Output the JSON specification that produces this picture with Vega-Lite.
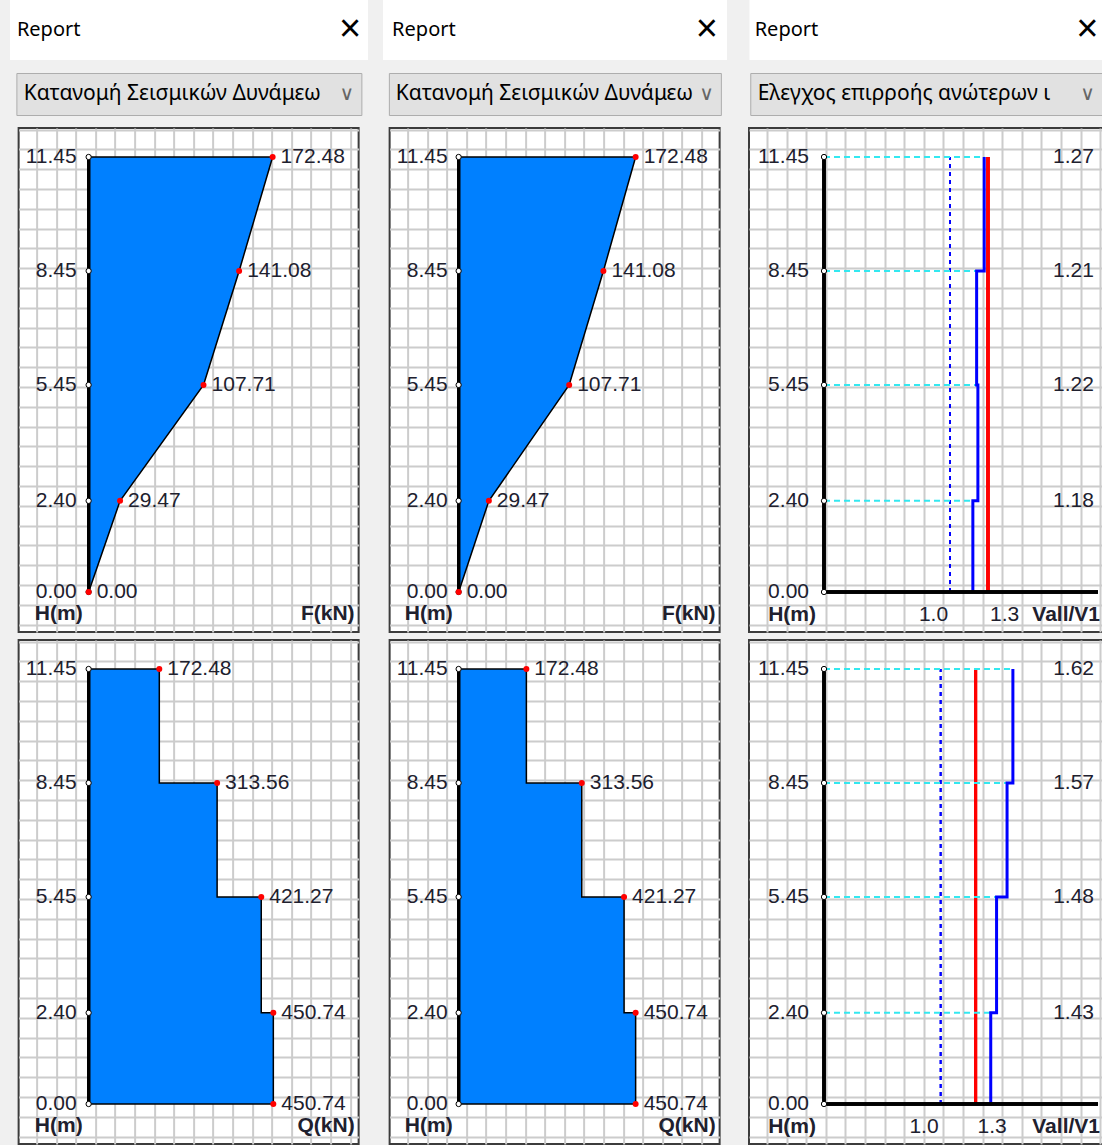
{
"$schema": "https://vega.github.io/schema/vega-lite/v6.json",
"background": "#f0f0f0",
"padding": {"left": 10, "top": 0, "right": 0, "bottom": 0},
"datasets": {"lv": [
 {"H": 0, "F": 0, "Q": 450.74, "R1": 1.18, "R2": 1.43},
 {"H": 2.4, "F": 29.47, "Q": 450.74, "R1": 1.18, "R2": 1.43},
 {"H": 5.45, "F": 107.71, "Q": 421.27, "R1": 1.22, "R2": 1.48},
 {"H": 8.45, "F": 141.08, "Q": 313.56, "R1": 1.21, "R2": 1.57},
 {"H": 11.45, "F": 172.48, "Q": 172.48, "R1": 1.27, "R2": 1.62}
]},
"spacing": 15,
"hconcat": [
 {"spacing": 12, "center": true, "vconcat": [
  {"width": 358, "height": 60, "view": {"fill": "#ffffff", "stroke": null},
   "layer": [
    {"data": {"values": [{"p": "a", "t": "Report"}]}, "mark": {"type": "text", "align": "left", "baseline": "middle", "font": "Noto Sans", "fontSize": 20, "color": "#000000"}, "encoding": {"x": {"field": "p", "type": "nominal", "scale": {"type": "point", "domain": ["a", "b"], "padding": 0.02}, "axis": null}, "text": {"field": "t"}}},
    {"data": {"values": [{"p": "b", "t": "×"}]}, "mark": {"type": "text", "align": "right", "baseline": "middle", "font": "Liberation Sans", "fontSize": 38, "color": "#000000"}, "encoding": {"x": {"field": "p", "type": "nominal", "axis": null}, "text": {"field": "t"}}}
   ]},
  {"spacing": 11, "center": true, "vconcat": [
   {"width": 345, "height": 42, "view": {"fill": "#e1e1e1", "stroke": "#adadad", "strokeWidth": 1},
    "layer": [
     {"data": {"values": [{"p": "a", "t": "Κατανομή Σεισμικών Δυνάμεω"}]}, "mark": {"type": "text", "align": "left", "baseline": "middle", "font": "Noto Sans", "fontSize": 21, "color": "#000000"}, "encoding": {"x": {"field": "p", "type": "nominal", "scale": {"type": "point", "domain": ["a", "b"], "padding": 0.022}, "axis": null}, "text": {"field": "t"}}},
     {"data": {"values": [{"p": "b", "t": "∨"}]}, "mark": {"type": "text", "align": "right", "baseline": "middle", "font": "DejaVu Sans", "fontSize": 20, "color": "#666666"}, "encoding": {"x": {"field": "p", "type": "nominal", "axis": null}, "text": {"field": "t"}}}
    ]},
   {"spacing": 6, "vconcat": [
    {"width": 340, "height": 504, "data": {"name": "lv"},
     "resolve": {"scale": {"x": "independent", "y": "independent"}},
     "layer": [
      {"mark": {"type": "point", "opacity": 0}, "encoding": {"x": {"datum": 0, "type": "quantitative", "scale": {"domain": [-0.918, 16.43], "nice": false, "zero": false}, "axis": {"tickCount": 18, "title": null}}, "y": {"datum": 0, "type": "quantitative", "scale": {"domain": [-0.37, 25.08], "nice": false, "zero": false}, "axis": {"tickCount": 26, "title": null}}}},
      {"encoding": {"x": {"field": "F", "type": "quantitative", "stack": null, "scale": {"domain": [-65.62, 253.1], "nice": false, "zero": false}, "axis": null}, "y": {"field": "H", "type": "quantitative", "scale": {"domain": [-1.053, 12.213], "nice": false, "zero": false}, "axis": null}},
       "layer": [
        {"mark": {"type": "area", "orient": "horizontal", "color": "#0080ff", "stroke": "#000000", "strokeWidth": 1.5, "opacity": 1}, "encoding": {"x2": {"datum": 0}}},
        {"mark": {"type": "rule", "color": "#000000", "strokeWidth": 3}, "encoding": {"x": {"datum": 0, "axis": null}, "y": {"datum": 0, "axis": null}, "y2": {"datum": 11.45}}},
        {"mark": {"type": "point", "filled": true, "fill": "#ffffff", "stroke": "#000000", "strokeWidth": 1, "size": 28, "opacity": 1}, "encoding": {"x": {"datum": 0, "axis": null}}},
        {"mark": {"type": "circle", "color": "#ff0000", "size": 36, "opacity": 1}},
        {"mark": {"type": "text", "align": "left", "dx": 8}, "encoding": {"text": {"field": "F", "format": ".2f"}}},
        {"mark": {"type": "text", "align": "right", "dx": -12}, "encoding": {"x": {"datum": 0, "axis": null}, "text": {"field": "H", "format": ".2f"}}},
        {"transform": [{"filter": "datum.H == 0"}], "mark": {"type": "text", "align": "right", "dx": -6, "fontWeight": "bold"}, "encoding": {"x": {"datum": 0, "axis": null}, "y": {"datum": -0.58, "axis": null}, "text": {"value": "H(m)"}}},
        {"transform": [{"filter": "datum.H == 0"}], "mark": {"type": "text", "align": "right", "fontWeight": "bold"}, "encoding": {"x": {"datum": 249.3, "axis": null}, "y": {"datum": -0.58, "axis": null}, "text": {"value": "F(kN)"}}}
       ]}
     ]},
    {"width": 340, "height": 504, "data": {"name": "lv"},
     "resolve": {"scale": {"x": "independent", "y": "independent"}},
     "layer": [
      {"mark": {"type": "point", "opacity": 0}, "encoding": {"x": {"datum": 0, "type": "quantitative", "scale": {"domain": [-0.918, 16.43], "nice": false, "zero": false}, "axis": {"tickCount": 18, "title": null}}, "y": {"datum": 0, "type": "quantitative", "scale": {"domain": [-0.37, 25.08], "nice": false, "zero": false}, "axis": {"tickCount": 26, "title": null}}}},
      {"encoding": {"x": {"field": "Q", "type": "quantitative", "stack": null, "scale": {"domain": [-170.83, 658.9], "nice": false, "zero": false}, "axis": null}, "y": {"field": "H", "type": "quantitative", "scale": {"domain": [-1.053, 12.213], "nice": false, "zero": false}, "axis": null}},
       "layer": [
        {"mark": {"type": "area", "orient": "horizontal", "interpolate": "step-before", "color": "#0080ff", "stroke": "#000000", "strokeWidth": 1.5, "opacity": 1}, "encoding": {"x2": {"datum": 0}}},
        {"mark": {"type": "rule", "color": "#000000", "strokeWidth": 3}, "encoding": {"x": {"datum": 0, "axis": null}, "y": {"datum": 0, "axis": null}, "y2": {"datum": 11.45}}},
        {"mark": {"type": "point", "filled": true, "fill": "#ffffff", "stroke": "#000000", "strokeWidth": 1, "size": 28, "opacity": 1}, "encoding": {"x": {"datum": 0, "axis": null}}},
        {"mark": {"type": "circle", "color": "#ff0000", "size": 36, "opacity": 1}},
        {"mark": {"type": "text", "align": "left", "dx": 8}, "encoding": {"text": {"field": "Q", "format": ".2f"}}},
        {"mark": {"type": "text", "align": "right", "dx": -12}, "encoding": {"x": {"datum": 0, "axis": null}, "text": {"field": "H", "format": ".2f"}}},
        {"transform": [{"filter": "datum.H == 0"}], "mark": {"type": "text", "align": "right", "dx": -6, "fontWeight": "bold"}, "encoding": {"x": {"datum": 0, "axis": null}, "y": {"datum": -0.58, "axis": null}, "text": {"value": "H(m)"}}},
        {"transform": [{"filter": "datum.H == 0"}], "mark": {"type": "text", "align": "right", "fontWeight": "bold"}, "encoding": {"x": {"datum": 649.2, "axis": null}, "y": {"datum": -0.58, "axis": null}, "text": {"value": "Q(kN)"}}}
       ]}
     ]}
   ]}
  ]}
 ]},
 {"spacing": 21, "hconcat": [
  {"spacing": 12, "center": true, "vconcat": [
   {"width": 344, "height": 60, "view": {"fill": "#ffffff", "stroke": null},
    "layer": [
     {"data": {"values": [{"p": "a", "t": "Report"}]}, "mark": {"type": "text", "align": "left", "baseline": "middle", "font": "Noto Sans", "fontSize": 20, "color": "#000000"}, "encoding": {"x": {"field": "p", "type": "nominal", "scale": {"type": "point", "domain": ["a", "b"], "padding": 0.028}, "axis": null}, "text": {"field": "t"}}},
     {"data": {"values": [{"p": "b", "t": "×"}]}, "mark": {"type": "text", "align": "right", "baseline": "middle", "font": "Liberation Sans", "fontSize": 38, "color": "#000000"}, "encoding": {"x": {"field": "p", "type": "nominal", "axis": null}, "text": {"field": "t"}}}
    ]},
   {"spacing": 11, "center": true, "vconcat": [
    {"width": 332, "height": 42, "view": {"fill": "#e1e1e1", "stroke": "#adadad", "strokeWidth": 1},
     "layer": [
      {"data": {"values": [{"p": "a", "t": "Κατανομή Σεισμικών Δυνάμεω"}]}, "mark": {"type": "text", "align": "left", "baseline": "middle", "font": "Noto Sans", "fontSize": 21, "color": "#000000"}, "encoding": {"x": {"field": "p", "type": "nominal", "scale": {"type": "point", "domain": ["a", "b"], "padding": 0.022}, "axis": null}, "text": {"field": "t"}}},
      {"data": {"values": [{"p": "b", "t": "∨"}]}, "mark": {"type": "text", "align": "right", "baseline": "middle", "font": "DejaVu Sans", "fontSize": 20, "color": "#666666"}, "encoding": {"x": {"field": "p", "type": "nominal", "axis": null}, "text": {"field": "t"}}}
     ]},
    {"spacing": 6, "vconcat": [
     {"width": 330, "height": 504, "data": {"name": "lv"},
      "resolve": {"scale": {"x": "independent", "y": "independent"}},
      "layer": [
       {"mark": {"type": "point", "opacity": 0}, "encoding": {"x": {"datum": 0, "type": "quantitative", "scale": {"domain": [-0.918, 15.92], "nice": false, "zero": false}, "axis": {"tickCount": 17, "title": null}}, "y": {"datum": 0, "type": "quantitative", "scale": {"domain": [-0.37, 25.08], "nice": false, "zero": false}, "axis": {"tickCount": 26, "title": null}}}},
       {"encoding": {"x": {"field": "F", "type": "quantitative", "stack": null, "scale": {"domain": [-67.24, 254.33], "nice": false, "zero": false}, "axis": null}, "y": {"field": "H", "type": "quantitative", "scale": {"domain": [-1.053, 12.213], "nice": false, "zero": false}, "axis": null}},
        "layer": [
         {"mark": {"type": "area", "orient": "horizontal", "color": "#0080ff", "stroke": "#000000", "strokeWidth": 1.5, "opacity": 1}, "encoding": {"x2": {"datum": 0}}},
         {"mark": {"type": "rule", "color": "#000000", "strokeWidth": 3}, "encoding": {"x": {"datum": 0, "axis": null}, "y": {"datum": 0, "axis": null}, "y2": {"datum": 11.45}}},
         {"mark": {"type": "point", "filled": true, "fill": "#ffffff", "stroke": "#000000", "strokeWidth": 1, "size": 28, "opacity": 1}, "encoding": {"x": {"datum": 0, "axis": null}}},
         {"mark": {"type": "circle", "color": "#ff0000", "size": 36, "opacity": 1}},
         {"mark": {"type": "text", "align": "left", "dx": 8}, "encoding": {"text": {"field": "F", "format": ".2f"}}},
         {"mark": {"type": "text", "align": "right", "dx": -11}, "encoding": {"x": {"datum": 0, "axis": null}, "text": {"field": "H", "format": ".2f"}}},
         {"transform": [{"filter": "datum.H == 0"}], "mark": {"type": "text", "align": "right", "dx": -6, "fontWeight": "bold"}, "encoding": {"x": {"datum": 0, "axis": null}, "y": {"datum": -0.58, "axis": null}, "text": {"value": "H(m)"}}},
         {"transform": [{"filter": "datum.H == 0"}], "mark": {"type": "text", "align": "right", "fontWeight": "bold"}, "encoding": {"x": {"datum": 250.4, "axis": null}, "y": {"datum": -0.58, "axis": null}, "text": {"value": "F(kN)"}}}
        ]}
      ]},
     {"width": 330, "height": 504, "data": {"name": "lv"},
      "resolve": {"scale": {"x": "independent", "y": "independent"}},
      "layer": [
       {"mark": {"type": "point", "opacity": 0}, "encoding": {"x": {"datum": 0, "type": "quantitative", "scale": {"domain": [-0.918, 15.92], "nice": false, "zero": false}, "axis": {"tickCount": 17, "title": null}}, "y": {"datum": 0, "type": "quantitative", "scale": {"domain": [-0.37, 25.08], "nice": false, "zero": false}, "axis": {"tickCount": 26, "title": null}}}},
       {"encoding": {"x": {"field": "Q", "type": "quantitative", "stack": null, "scale": {"domain": [-175.71, 664.6], "nice": false, "zero": false}, "axis": null}, "y": {"field": "H", "type": "quantitative", "scale": {"domain": [-1.053, 12.213], "nice": false, "zero": false}, "axis": null}},
        "layer": [
         {"mark": {"type": "area", "orient": "horizontal", "interpolate": "step-before", "color": "#0080ff", "stroke": "#000000", "strokeWidth": 1.5, "opacity": 1}, "encoding": {"x2": {"datum": 0}}},
         {"mark": {"type": "rule", "color": "#000000", "strokeWidth": 3}, "encoding": {"x": {"datum": 0, "axis": null}, "y": {"datum": 0, "axis": null}, "y2": {"datum": 11.45}}},
         {"mark": {"type": "point", "filled": true, "fill": "#ffffff", "stroke": "#000000", "strokeWidth": 1, "size": 28, "opacity": 1}, "encoding": {"x": {"datum": 0, "axis": null}}},
         {"mark": {"type": "circle", "color": "#ff0000", "size": 36, "opacity": 1}},
         {"mark": {"type": "text", "align": "left", "dx": 8}, "encoding": {"text": {"field": "Q", "format": ".2f"}}},
         {"mark": {"type": "text", "align": "right", "dx": -11}, "encoding": {"x": {"datum": 0, "axis": null}, "text": {"field": "H", "format": ".2f"}}},
         {"transform": [{"filter": "datum.H == 0"}], "mark": {"type": "text", "align": "right", "dx": -6, "fontWeight": "bold"}, "encoding": {"x": {"datum": 0, "axis": null}, "y": {"datum": -0.58, "axis": null}, "text": {"value": "H(m)"}}},
         {"transform": [{"filter": "datum.H == 0"}], "mark": {"type": "text", "align": "right", "fontWeight": "bold"}, "encoding": {"x": {"datum": 654.5, "axis": null}, "y": {"datum": -0.58, "axis": null}, "text": {"value": "Q(kN)"}}}
        ]}
      ]}
    ]}
   ]}
  ]},
  {"spacing": 12, "center": true, "vconcat": [
   {"width": 354, "height": 60, "view": {"fill": "#ffffff", "stroke": null},
    "layer": [
     {"data": {"values": [{"p": "a", "t": "Report"}]}, "mark": {"type": "text", "align": "left", "baseline": "middle", "font": "Noto Sans", "fontSize": 20, "color": "#000000"}, "encoding": {"x": {"field": "p", "type": "nominal", "scale": {"type": "point", "domain": ["a", "b"], "padding": 0.015}, "axis": null}, "text": {"field": "t"}}},
     {"data": {"values": [{"p": "b", "t": "×"}]}, "mark": {"type": "text", "align": "right", "baseline": "middle", "font": "Liberation Sans", "fontSize": 38, "color": "#000000"}, "encoding": {"x": {"field": "p", "type": "nominal", "axis": null}, "text": {"field": "t"}}}
    ]},
   {"spacing": 11, "center": true, "vconcat": [
    {"width": 352, "height": 42, "view": {"fill": "#e1e1e1", "stroke": "#adadad", "strokeWidth": 1},
     "layer": [
      {"data": {"values": [{"p": "a", "t": "Ελεγχος επιρροής ανώτερων ι"}]}, "mark": {"type": "text", "align": "left", "baseline": "middle", "font": "Noto Sans", "fontSize": 21, "color": "#000000"}, "encoding": {"x": {"field": "p", "type": "nominal", "scale": {"type": "point", "domain": ["a", "b"], "padding": 0.022}, "axis": null}, "text": {"field": "t"}}},
      {"data": {"values": [{"p": "b", "t": "∨"}]}, "mark": {"type": "text", "align": "right", "baseline": "middle", "font": "DejaVu Sans", "fontSize": 20, "color": "#666666"}, "encoding": {"x": {"field": "p", "type": "nominal", "axis": null}, "text": {"field": "t"}}}
     ]},
    {"spacing": 6, "vconcat": [
     {"width": 354, "height": 504, "data": {"name": "lv"},
      "resolve": {"scale": {"x": "independent", "y": "independent"}},
      "layer": [
       {"mark": {"type": "point", "opacity": 0}, "encoding": {"x": {"datum": 0, "type": "quantitative", "scale": {"domain": [-0.918, 17.14], "nice": false, "zero": false}, "axis": {"tickCount": 19, "title": null}}, "y": {"datum": 0, "type": "quantitative", "scale": {"domain": [-0.37, 25.08], "nice": false, "zero": false}, "axis": {"tickCount": 26, "title": null}}}},
       {"encoding": {"x": {"field": "R1", "type": "quantitative", "scale": {"domain": [-0.5945, 2.2117], "nice": false, "zero": false}, "axis": null}, "y": {"field": "H", "type": "quantitative", "scale": {"domain": [-1.053, 12.213], "nice": false, "zero": false}, "axis": null}},
        "layer": [
         {"mark": {"type": "rule", "color": "#ff0000", "strokeWidth": 3}, "encoding": {"x": {"datum": 1.3, "axis": null}, "y": {"datum": 0, "axis": null}, "y2": {"datum": 11.45}}},
         {"mark": {"type": "rule", "color": "#0000ff", "strokeWidth": 1.5, "strokeDash": [4, 4]}, "encoding": {"x": {"datum": 1.0, "axis": null}, "y": {"datum": 0, "axis": null}, "y2": {"datum": 11.45}}},
         {"transform": [{"filter": "datum.H > 0"}], "mark": {"type": "rule", "color": "#33e8f0", "strokeWidth": 2, "strokeDash": [6, 4]}, "encoding": {"x": {"datum": 0, "axis": null}, "x2": {"field": "R1"}}},
         {"mark": {"type": "line", "color": "#0000ff", "strokeWidth": 3, "interpolate": "step-after"}, "encoding": {"order": {"field": "H", "type": "quantitative"}}},
         {"mark": {"type": "rule", "color": "#000000", "strokeWidth": 3}, "encoding": {"x": {"datum": 0, "axis": null}, "y": {"datum": 0, "axis": null}, "y2": {"datum": 11.45}}},
         {"mark": {"type": "rule", "color": "#000000", "strokeWidth": 3}, "encoding": {"x": {"datum": 0, "axis": null}, "x2": {"datum": 2.172}, "y": {"datum": 0, "axis": null}}},
         {"mark": {"type": "point", "filled": true, "fill": "#ffffff", "stroke": "#000000", "strokeWidth": 1, "size": 28, "opacity": 1}, "encoding": {"x": {"datum": 0, "axis": null}}},
         {"transform": [{"filter": "datum.H > 0"}], "mark": {"type": "text", "align": "right"}, "encoding": {"x": {"datum": 2.14, "axis": null}, "text": {"field": "R1", "format": ".2f"}}},
         {"mark": {"type": "text", "align": "right", "dx": -15}, "encoding": {"x": {"datum": 0, "axis": null}, "text": {"field": "H", "format": ".2f"}}},
         {"transform": [{"filter": "datum.H == 0"}], "mark": {"type": "text", "align": "right", "dx": -8, "fontWeight": "bold"}, "encoding": {"x": {"datum": 0, "axis": null}, "y": {"datum": -0.6, "axis": null}, "text": {"value": "H(m)"}}},
         {"transform": [{"filter": "datum.H == 0"}], "mark": {"type": "text", "align": "right", "dx": -2}, "encoding": {"x": {"datum": 1.0, "axis": null}, "y": {"datum": -0.6, "axis": null}, "text": {"value": "1.0"}}},
         {"transform": [{"filter": "datum.H == 0"}], "mark": {"type": "text", "align": "left", "dx": 2}, "encoding": {"x": {"datum": 1.3, "axis": null}, "y": {"datum": -0.6, "axis": null}, "text": {"value": "1.3"}}},
         {"transform": [{"filter": "datum.H == 0"}], "mark": {"type": "text", "align": "right", "fontWeight": "bold"}, "encoding": {"x": {"datum": 2.188, "axis": null}, "y": {"datum": -0.6, "axis": null}, "text": {"value": "Vall/V1"}}}
        ]}
      ]},
     {"width": 354, "height": 504, "data": {"name": "lv"},
      "resolve": {"scale": {"x": "independent", "y": "independent"}},
      "layer": [
       {"mark": {"type": "point", "opacity": 0}, "encoding": {"x": {"datum": 0, "type": "quantitative", "scale": {"domain": [-0.918, 17.14], "nice": false, "zero": false}, "axis": {"tickCount": 19, "title": null}}, "y": {"datum": 0, "type": "quantitative", "scale": {"domain": [-0.37, 25.08], "nice": false, "zero": false}, "axis": {"tickCount": 26, "title": null}}}},
       {"encoding": {"x": {"field": "R2", "type": "quantitative", "scale": {"domain": [-0.6432, 2.3928], "nice": false, "zero": false}, "axis": null}, "y": {"field": "H", "type": "quantitative", "scale": {"domain": [-1.053, 12.213], "nice": false, "zero": false}, "axis": null}},
        "layer": [
         {"mark": {"type": "rule", "color": "#ff0000", "strokeWidth": 3}, "encoding": {"x": {"datum": 1.3, "axis": null}, "y": {"datum": 0, "axis": null}, "y2": {"datum": 11.45}}},
         {"mark": {"type": "rule", "color": "#0000ff", "strokeWidth": 1.5, "strokeDash": [4, 4]}, "encoding": {"x": {"datum": 1.0, "axis": null}, "y": {"datum": 0, "axis": null}, "y2": {"datum": 11.45}}},
         {"transform": [{"filter": "datum.H > 0"}], "mark": {"type": "rule", "color": "#33e8f0", "strokeWidth": 2, "strokeDash": [6, 4]}, "encoding": {"x": {"datum": 0, "axis": null}, "x2": {"field": "R2"}}},
         {"mark": {"type": "line", "color": "#0000ff", "strokeWidth": 3, "interpolate": "step-after"}, "encoding": {"order": {"field": "H", "type": "quantitative"}}},
         {"mark": {"type": "rule", "color": "#000000", "strokeWidth": 3}, "encoding": {"x": {"datum": 0, "axis": null}, "y": {"datum": 0, "axis": null}, "y2": {"datum": 11.45}}},
         {"mark": {"type": "rule", "color": "#000000", "strokeWidth": 3}, "encoding": {"x": {"datum": 0, "axis": null}, "x2": {"datum": 2.35}, "y": {"datum": 0, "axis": null}}},
         {"mark": {"type": "point", "filled": true, "fill": "#ffffff", "stroke": "#000000", "strokeWidth": 1, "size": 28, "opacity": 1}, "encoding": {"x": {"datum": 0, "axis": null}}},
         {"transform": [{"filter": "datum.H > 0"}], "mark": {"type": "text", "align": "right"}, "encoding": {"x": {"datum": 2.316, "axis": null}, "text": {"field": "R2", "format": ".2f"}}},
         {"mark": {"type": "text", "align": "right", "dx": -15}, "encoding": {"x": {"datum": 0, "axis": null}, "text": {"field": "H", "format": ".2f"}}},
         {"transform": [{"filter": "datum.H == 0"}], "mark": {"type": "text", "align": "right", "dx": -8, "fontWeight": "bold"}, "encoding": {"x": {"datum": 0, "axis": null}, "y": {"datum": -0.6, "axis": null}, "text": {"value": "H(m)"}}},
         {"transform": [{"filter": "datum.H == 0"}], "mark": {"type": "text", "align": "right", "dx": -2}, "encoding": {"x": {"datum": 1.0, "axis": null}, "y": {"datum": -0.6, "axis": null}, "text": {"value": "1.0"}}},
         {"transform": [{"filter": "datum.H == 0"}], "mark": {"type": "text", "align": "left", "dx": 2}, "encoding": {"x": {"datum": 1.3, "axis": null}, "y": {"datum": -0.6, "axis": null}, "text": {"value": "1.3"}}},
         {"transform": [{"filter": "datum.H == 0"}], "mark": {"type": "text", "align": "right", "fontWeight": "bold"}, "encoding": {"x": {"datum": 2.367, "axis": null}, "y": {"datum": -0.6, "axis": null}, "text": {"value": "Vall/V1"}}}
        ]}
      ]}
    ]}
   ]}
  ]}
 ]}
],
"config": {
 "view": {"stroke": "#3c3c3c", "strokeWidth": 2, "fill": "#ffffff"},
 "axis": {"labels": false, "ticks": false, "domain": false, "grid": true, "gridColor": "#cccccc", "gridWidth": 2, "minExtent": 0, "maxExtent": 0},
 "text": {"font": "Liberation Sans", "fontSize": 21, "color": "#20202e", "baseline": "middle"}
}
}
